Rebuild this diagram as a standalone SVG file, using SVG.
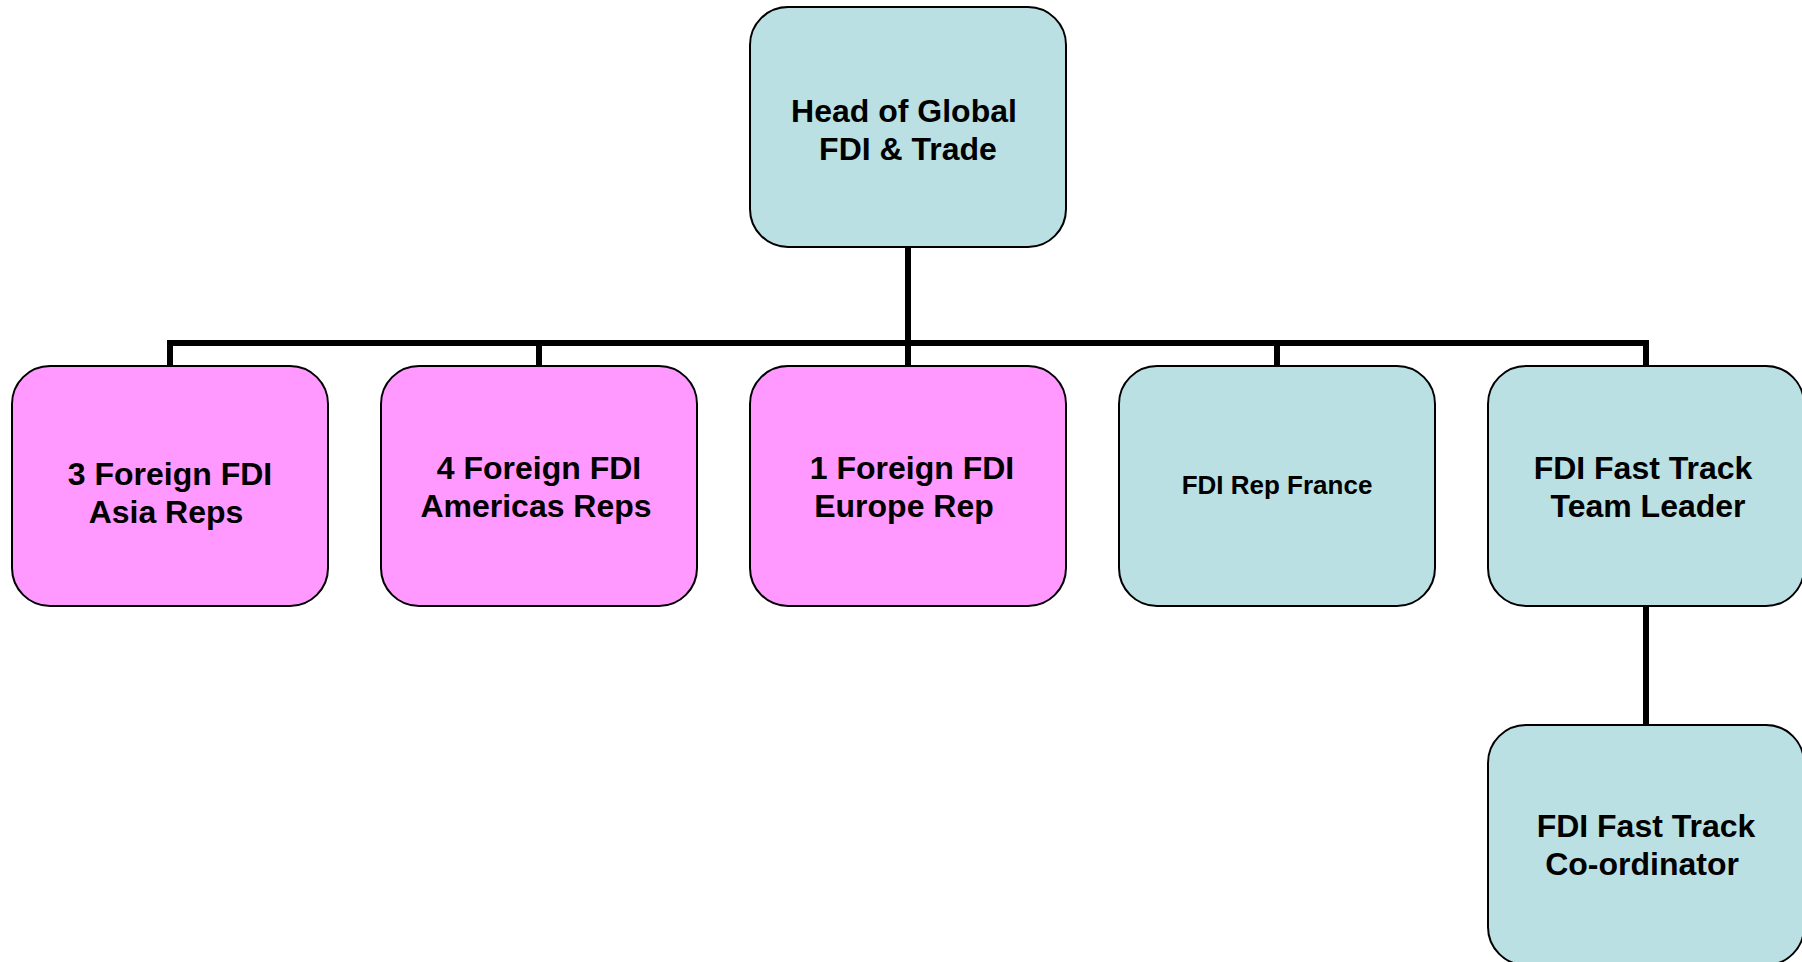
<svg xmlns="http://www.w3.org/2000/svg" width="1802" height="962" viewBox="0 0 1802 962">
<style>
.box{stroke:#000;stroke-width:2}
.blue{fill:#BAE0E3}
.pink{fill:#FF99FF}
.t{font-family:"Liberation Sans",Arial,sans-serif;font-weight:bold;font-size:32px;fill:#000;text-anchor:middle}
.s{font-size:26px}
.c{fill:none;stroke:#000;stroke-width:6;stroke-linejoin:miter;stroke-linecap:butt}
</style>
<rect width="1802" height="962" fill="#fff"/>
<g id="connectors">
<path class="c" d="M908,247 V343"/>
<path class="c" d="M170,367 V343 H1646 V367"/>
<path class="c" d="M539,343 V367"/>
<path class="c" d="M908,343 V367"/>
<path class="c" d="M1277,343 V367"/>
<path class="c" d="M1646,605 V726"/>
</g>
<g id="head">
<rect class="box blue" x="750" y="7" width="316" height="240" rx="38" ry="38"/>
<text class="t" x="904" y="122">Head of Global</text>
<text class="t" x="908" y="160">FDI &amp; Trade</text>
</g>
<g id="asia">
<rect class="box pink" x="12" y="366" width="316" height="240" rx="38" ry="38"/>
<text class="t" x="170" y="485">3 Foreign FDI</text>
<text class="t" x="166" y="523">Asia Reps</text>
</g>
<g id="americas">
<rect class="box pink" x="381" y="366" width="316" height="240" rx="38" ry="38"/>
<text class="t" x="539" y="479">4 Foreign FDI</text>
<text class="t" x="536" y="517">Americas Reps</text>
</g>
<g id="europe">
<rect class="box pink" x="750" y="366" width="316" height="240" rx="38" ry="38"/>
<text class="t" x="912" y="479">1 Foreign FDI</text>
<text class="t" x="904" y="517">Europe Rep</text>
</g>
<g id="france">
<rect class="box blue" x="1119" y="366" width="316" height="240" rx="38" ry="38"/>
<text class="t s" x="1277" y="494">FDI Rep France</text>
</g>
<g id="fasttrack-leader">
<rect class="box blue" x="1488" y="366" width="316" height="240" rx="38" ry="38"/>
<text class="t" x="1643" y="479">FDI Fast Track</text>
<text class="t" x="1648" y="517">Team Leader</text>
</g>
<g id="fasttrack-coordinator">
<rect class="box blue" x="1488" y="725" width="316" height="240" rx="38" ry="38"/>
<text class="t" x="1646" y="837">FDI Fast Track</text>
<text class="t" x="1642" y="875">Co-ordinator</text>
</g>
</svg>
